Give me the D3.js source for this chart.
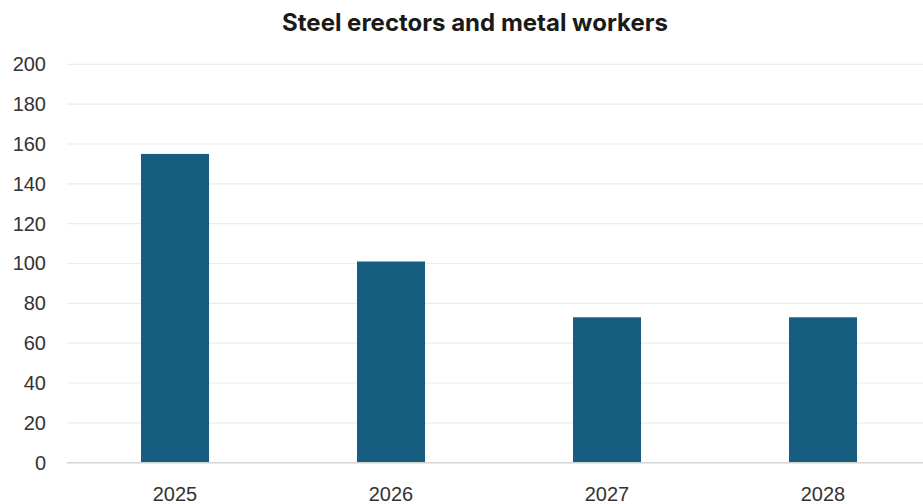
<!DOCTYPE html>
<html>
<head>
<meta charset="utf-8">
<script src="https://cdn.jsdelivr.net/npm/d3@7/dist/d3.min.js"></script>
<style>
  html, body { margin: 0; padding: 0; background: #ffffff; }
  svg { display: block; }
</style>
</head>
<body>
<svg id="chart" width="923" height="504"></svg>
<script>
// Projected demand by year
const years = ["2025", "2026", "2027", "2028"];
const values = [155, 101, 73, 73];
const yTicks = [0, 20, 40, 60, 80, 100, 120, 140, 160, 180, 200];
const chartTitle = "Steel erectors and metal workers";

const W = 923, H = 504;
const margin = { left: 67, right: -8, top: 64.3, bottom: 41.3 };

const svg = d3.select("#chart");

const x = d3.scaleBand()
  .domain(years)
  .range([margin.left, W - margin.right])
  .paddingInner(0.685)
  .paddingOuter(0.3425);

const y = d3.scaleLinear()
  .domain([0, 200])
  .range([H - margin.bottom, margin.top]);

// Horizontal gridlines
svg.append("g")
  .selectAll("line")
  .data(yTicks.filter(d => d > 0))
  .join("line")
  .attr("x1", margin.left)
  .attr("x2", W)
  .attr("y1", d => y(d))
  .attr("y2", d => y(d))
  .attr("stroke", "#ececec")
  .attr("stroke-width", 1.2);

// Y axis labels
const yAxis = d3.axisLeft(y).tickValues(yTicks).tickSize(0).tickPadding(0);
const gy = svg.append("g")
  .attr("transform", `translate(${margin.left - 21},0)`)
  .call(yAxis);
gy.select(".domain").remove();
gy.selectAll("text")
  .attr("font-family", "'Liberation Sans', Arial, sans-serif")
  .attr("font-size", 20)
  .attr("fill", "#333333");

// Bars
svg.append("g")
  .selectAll("rect")
  .data(years.map((yr, i) => ({ yr, v: values[i] })))
  .join("rect")
  .attr("x", d => x(d.yr))
  .attr("width", x.bandwidth())
  .attr("y", d => y(d.v))
  .attr("height", d => y(0) - y(d.v))
  .attr("fill", "#165e80");

// Baseline
svg.append("line")
  .attr("x1", margin.left)
  .attr("x2", W)
  .attr("y1", y(0))
  .attr("y2", y(0))
  .attr("stroke", "#d4d4d4")
  .attr("stroke-width", 1.5);

// X axis labels
const xAxis = d3.axisBottom(x).tickSize(0).tickPadding(0);
const gx = svg.append("g")
  .attr("transform", `translate(0,${y(0)})`)
  .call(xAxis);
gx.select(".domain").remove();
gx.selectAll("text")
  .attr("dy", null)
  .attr("y", 38)
  .attr("font-family", "'Liberation Sans', Arial, sans-serif")
  .attr("font-size", 20)
  .attr("fill", "#333333");

// Title
svg.append("text")
  .attr("x", 475)
  .attr("y", 31)
  .attr("text-anchor", "middle")
  .attr("font-family", "Inter, 'Liberation Sans', sans-serif")
  .attr("font-weight", 700)
  .attr("font-size", 24)
  .attr("letter-spacing", 0)
  .attr("fill", "#1a1a1a")
  .text(chartTitle);
</script>
</body>
</html>
